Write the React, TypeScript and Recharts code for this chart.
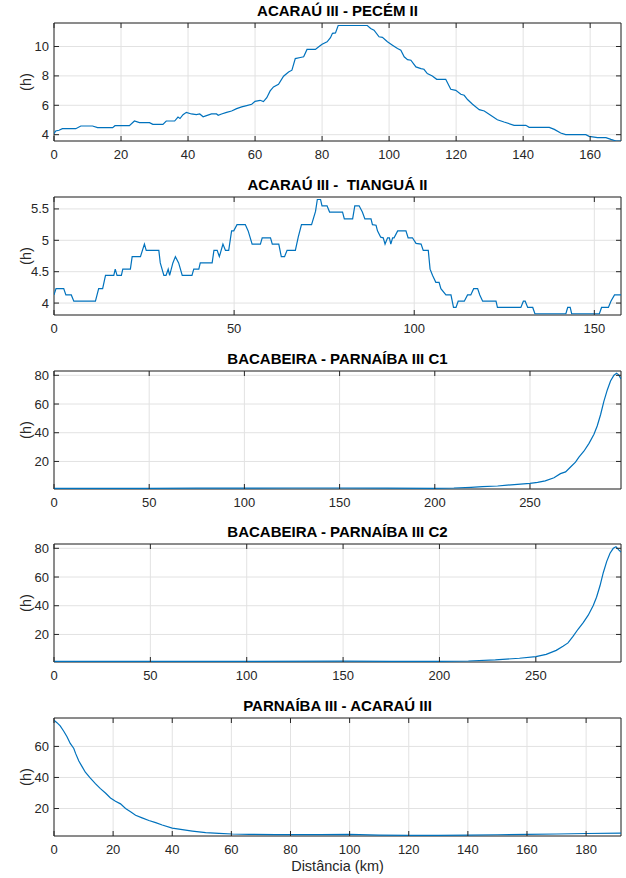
import React from 'react';
import {
  LineChart,
  Line,
  XAxis,
  YAxis,
  CartesianGrid,
  ReferenceArea,
} from 'recharts';

// ACARAÚ III - PECÉM II
const dist1 = [
  0, 0.5, 1.5, 2.5, 6.5, 8, 11.5, 13, 17.5, 18.2, 22.5, 24, 25.5, 28.5, 29.5, 32.5,
  33.5, 36, 37, 37.6, 38.5, 39.5, 41, 42.5, 43.5, 44.5, 45.5, 47, 48.5, 49, 50, 51.5,
  53, 54.5, 56, 57.5, 59, 60, 61.5, 62.5, 63.5, 64.5, 65.5, 67, 68.5, 70, 71, 72,
  73.5, 74.5, 75.5, 78, 79, 80, 81.5, 82.5, 83.1, 84, 84.8, 93.5, 94.5, 95.5, 97, 98,
  99.5, 101, 102.5, 103.5, 104.5, 105.5, 106.5, 108, 109.5, 110.4, 111.4, 112.9,
  114.2, 116.9, 118.4, 119.9, 121.4, 122.4, 123.4, 124.9, 126.9, 128.4, 130.3,
  132.3, 134.3, 137.3, 140.8, 141.8, 147.8, 149.3, 151.2, 152.7, 158.7, 159.7,
  162.2, 164.7, 166.2, 167.7, 169.2,
];
const h1 = [
  4.07, 4.25, 4.3, 4.41, 4.41, 4.59, 4.59, 4.48, 4.48, 4.61, 4.61, 4.93, 4.82, 4.82,
  4.7, 4.7, 4.93, 4.93, 5.2, 5.1, 5.36, 5.52, 5.41, 5.36, 5.41, 5.22, 5.3, 5.41,
  5.41, 5.32, 5.41, 5.52, 5.61, 5.77, 5.89, 5.98, 6.07, 6.27, 6.34, 6.25, 6.52,
  6.98, 7.25, 7.43, 7.98, 8.27, 8.39, 9.18, 9.25, 9.3, 9.8, 9.8, 9.98, 10.16, 10.32,
  10.6, 10.9, 10.93, 11.43, 11.43, 11.23, 11.11, 10.66, 10.62, 10.32, 10.09, 9.86,
  9.75, 9.3, 9.11, 9.07, 8.61, 8.5, 8.45, 8.16, 8.0, 7.77, 7.77, 7.09, 7.02, 6.75,
  6.68, 6.39, 6.07, 5.7, 5.61, 5.32, 5.02, 4.86, 4.64, 4.64, 4.5, 4.5, 4.36, 4.11,
  4.0, 4.0, 3.89, 3.8, 3.8, 3.68, 3.57, 3.57,
];

// ACARAÚ III - TIANGUÁ II
const dist2 = [
  0, 0.56, 2.7, 3.3, 4.8, 5.5, 11.5, 12.4, 13.5, 14.3, 16.6, 17.0, 17.5, 18.7, 19.1,
  21.2, 21.7, 24.0, 25.1, 25.6, 29.1, 29.5, 30.5, 31.1, 31.7, 32.1, 33.0, 33.7, 34.6,
  35.6, 38.3, 38.8, 40.2, 40.6, 43.9, 44.4, 45.3, 45.9, 46.9, 47.6, 48.5, 49.3, 49.9,
  50.8, 53.1, 53.9, 55.0, 57.3, 57.8, 60.1, 60.6, 62.4, 63.1, 64.0, 64.7, 67.0, 67.8,
  68.7, 71.5, 72.6, 73.1, 74.0, 74.4, 75.8, 76.5, 80.1, 80.6, 82.9, 83.5, 84.7, 85.6,
  86.3, 88.0, 88.4, 89.4, 89.8, 90.7, 91.4, 91.9, 92.6, 93.1, 93.5, 94.0, 94.4, 95.4,
  97.7, 98.3, 99.5, 100.5, 101.9, 102.5, 103.9, 104.4, 105.1, 106.0, 106.9, 107.4,
  108.8, 110.2, 110.9, 111.6, 112.2, 113.9, 114.8, 115.7, 116.5, 117.6, 118.2, 119.0,
  122.7, 123.1, 129.6, 130.3, 130.8, 131.5, 132.9, 133.5, 142.1, 142.6, 143.3, 143.7,
  151.4, 152.0, 153.9, 154.6, 155.6, 157.4,
];
const h2 = [
  4.13, 4.23, 4.23, 4.13, 4.13, 4.03, 4.03, 4.23, 4.23, 4.44, 4.44, 4.54, 4.44, 4.44,
  4.54, 4.54, 4.74, 4.74, 4.94, 4.84, 4.84, 4.64, 4.44, 4.44, 4.54, 4.44, 4.64, 4.74,
  4.64, 4.44, 4.44, 4.54, 4.54, 4.64, 4.64, 4.84, 4.84, 4.74, 4.94, 4.84, 4.84, 5.15,
  5.15, 5.25, 5.25, 5.15, 4.94, 4.94, 5.04, 5.04, 4.94, 4.94, 4.74, 4.74, 4.84, 4.84,
  5.05, 5.25, 5.25, 5.46, 5.65, 5.65, 5.55, 5.55, 5.45, 5.45, 5.34, 5.34, 5.55, 5.55,
  5.45, 5.34, 5.34, 5.25, 5.24, 5.15, 5.05, 5.04, 4.94, 5.04, 5.04, 4.94, 5.04, 5.04,
  5.15, 5.15, 5.04, 5.04, 4.95, 4.94, 4.84, 4.84, 4.54, 4.44, 4.33, 4.33, 4.23, 4.13,
  4.13, 3.93, 3.93, 4.03, 4.03, 4.13, 4.13, 4.23, 4.23, 4.13, 4.03, 4.03, 3.93, 3.93,
  4.03, 4.03, 3.93, 3.93, 3.83, 3.83, 3.93, 3.93, 3.83, 3.83, 3.93, 3.93, 4.03, 4.13,
  4.13,
];

// BACABEIRA - PARNAÍBA III C1
const dist3 = [
  0, 25, 50, 75, 100, 125, 150, 175, 200, 210, 219, 225, 233, 238, 245, 250, 254,
  258, 262.6, 266, 268.7, 271.3, 273.9, 275.7, 278.3, 281, 283.6, 285.3, 287.1,
  288.8, 290.6, 292.3, 294.1, 295.5, 296.7, 297.8,
];
const h3 = [
  1.3, 1.3, 1.3, 1.35, 1.4, 1.5, 1.5, 1.4, 1.3, 1.5, 2.0, 2.4, 2.9, 3.5, 4.2, 4.7,
  5.4, 6.5, 8.6, 11.5, 12.7, 16.1, 19.5, 23.0, 27.1, 32.6, 39.0, 44.7, 52.7, 61.8,
  69.8, 76.0, 80.1, 81.5, 80.1, 77.4,
];

// BACABEIRA - PARNAÍBA III C2
const dist4 = [
  0, 50, 100, 150, 175, 200, 215, 229, 241.5, 250, 255.4, 260.6, 264.1, 266.7, 269.3,
  271.9, 274.6, 277.2, 279.8, 281.5, 283.3, 285, 286.8, 288.5, 290.2, 291.6, 293,
  294.2,
];
const h4 = [
  1.2, 1.2, 1.25, 1.35, 1.3, 1.2, 1.5, 2.3, 3.4, 4.5, 6.1, 8.9, 11.8, 14.1, 18.6, 23.6,
  28.2, 33.4, 40.2, 45.9, 53.9, 63.0, 70.9, 76.6, 80.0, 81.1, 78.9, 77.3,
];

// PARNAÍBA III - ACARAÚ III
const dist5 = [
  0, 1, 2.1, 3.3, 4.4, 5.5, 6.7, 7.3, 8.4, 9.5, 10.6, 12.3, 14, 15.7, 17.4, 19.1, 20.8,
  22.5, 24.2, 25.9, 27.6, 29.8, 32.1, 34.4, 36.6, 40, 43.4, 46.8, 51.3, 55.8, 60.3,
  66, 75, 90, 100, 110, 120, 130, 140, 150, 160, 170, 180, 191.8,
];
const h5 = [
  76.8, 75.3, 73.2, 69.8, 66.2, 61.9, 58.7, 55.5, 50.6, 47.0, 43.4, 39.6, 36.0, 32.8,
  30.0, 26.8, 24.7, 23.0, 20.0, 17.9, 15.7, 14.0, 12.3, 10.9, 9.4, 7.4, 6.4, 5.5, 4.5,
  4.0, 3.6, 3.4, 3.2, 3.2, 3.3, 2.9, 2.7, 2.7, 2.9, 3.1, 3.3, 3.6, 3.9, 4.2,
];

const titles = [
  'ACARAÚ III - PECÉM II',
  'ACARAÚ III -  TIANGUÁ II',
  'BACABEIRA - PARNAÍBA III C1',
  'BACABEIRA - PARNAÍBA III C2',
  'PARNAÍBA III - ACARAÚ III',
];

const xTicks1 = [0, 20, 40, 60, 80, 100, 120, 140, 160];
const yTicks1 = [4, 6, 8, 10];
const xTicks2 = [0, 50, 100, 150];
const yTicks2 = [4, 4.5, 5, 5.5];
const xTicks3 = [0, 50, 100, 150, 200, 250];
const yTicks3 = [20, 40, 60, 80];
const xTicks5 = [0, 20, 40, 60, 80, 100, 120, 140, 160, 180];
const yTicks5 = [20, 40, 60];

const W = 626;
const LEFT = 54;
const RIGHT = 621;
const PT = 23; // plot top inside each chart
const PH = 118; // plot height
const PB = PT + PH;
const FONT = '"Liberation Sans", Arial, Helvetica, sans-serif';
const AX = '#262626';
const BLUE = '#0072BD';

const XTick = (props: any) => {
  const { x, payload } = props;
  return (
    <g>
      <line x1={x} x2={x} y1={PB} y2={PB - 5} stroke={AX} />
      <line x1={x} x2={x} y1={PT} y2={PT + 5} stroke={AX} />
      <text
        x={x}
        y={PB + 13}
        textAnchor="middle"
        dominantBaseline="central"
        fill={AX}
        fontSize={13}
        fontFamily={FONT}
      >
        {payload.value}
      </text>
    </g>
  );
};

const YTick = (props: any) => {
  const { y, payload } = props;
  return (
    <g>
      <line x1={LEFT} x2={LEFT + 5} y1={y} y2={y} stroke={AX} />
      <line x1={RIGHT} x2={RIGHT - 5} y1={y} y2={y} stroke={AX} />
      <text
        x={LEFT - 5}
        y={y}
        textAnchor="end"
        dominantBaseline="central"
        fill={AX}
        fontSize={13}
        fontFamily={FONT}
      >
        {payload.value}
      </text>
    </g>
  );
};

type PanelProps = {
  top: number;
  title: string;
  dist: number[];
  vals: number[];
  xTicks: number[];
  yTicks: number[];
  xDomain: [number, number];
  yDomain: [number, number];
};

function Panel({ top, title, dist, vals, xTicks, yTicks, xDomain, yDomain }: PanelProps) {
  const data = dist.map((d, i) => ({ d, h: vals[i] }));
  return (
    <div style={{ position: 'absolute', left: 0, top, width: W, height: 171 }}>
      <div
        style={{
          position: 'absolute',
          left: LEFT,
          width: RIGHT - LEFT,
          top: PT - 12 - 9,
          height: 18,
          lineHeight: '18px',
          textAlign: 'center',
          fontWeight: 'bold',
          fontSize: 15,
          color: '#000',
          whiteSpace: 'pre',
        }}
      >
        {title}
      </div>
      <div
        style={{
          position: 'absolute',
          left: 26 - PH / 2,
          width: PH,
          top: PT + PH / 2 - 9,
          height: 18,
          lineHeight: '18px',
          textAlign: 'center',
          fontSize: 14.5,
          color: AX,
          transform: 'rotate(-90deg)',
        }}
      >
        (h)
      </div>
      <LineChart
        width={W}
        height={171}
        data={data}
        margin={{ top: PT, right: W - RIGHT, bottom: 0, left: 0 }}
      >
        <CartesianGrid stroke="#e2e2e2" />
        <XAxis
          dataKey="d"
          type="number"
          domain={xDomain}
          ticks={xTicks}
          interval={0}
          allowDataOverflow
          axisLine={false}
          tickLine={false}
          tick={<XTick />}
          height={171 - PB}
        />
        <YAxis
          type="number"
          domain={yDomain}
          ticks={yTicks}
          interval={0}
          allowDataOverflow
          axisLine={false}
          tickLine={false}
          tick={<YTick />}
          width={LEFT}
        />
        <Line
          type="linear"
          dataKey="h"
          stroke={BLUE}
          strokeWidth={1.2}
          dot={false}
          isAnimationActive={false}
        />
        <ReferenceArea
          x1={xDomain[0]}
          x2={xDomain[1]}
          y1={yDomain[0]}
          y2={yDomain[1]}
          fill="none"
          fillOpacity={0}
          stroke={AX}
          strokeWidth={1}
        />
      </LineChart>
    </div>
  );
}

export default function App() {
  return (
    <div
      style={{
        position: 'absolute',
        left: 0,
        top: 0,
        width: W,
        height: 878,
        background: '#fff',
        fontFamily: FONT,
      }}
    >
      <Panel top={0} title={titles[0]} dist={dist1} vals={h1} xTicks={xTicks1} yTicks={yTicks1} xDomain={[0, 169.2]} yDomain={[3.57, 11.6]} />
      <Panel top={174} title={titles[1]} dist={dist2} vals={h2} xTicks={xTicks2} yTicks={yTicks2} xDomain={[0, 157.4]} yDomain={[3.81, 5.69]} />
      <Panel top={348} title={titles[2]} dist={dist3} vals={h3} xTicks={xTicks3} yTicks={yTicks3} xDomain={[0, 297.8]} yDomain={[0.8, 83]} />
      <Panel top={521} title={titles[3]} dist={dist4} vals={h4} xTicks={xTicks3} yTicks={yTicks3} xDomain={[0, 294.2]} yDomain={[0.8, 83]} />
      <Panel top={695} title={titles[4]} dist={dist5} vals={h5} xTicks={xTicks5} yTicks={yTicks5} xDomain={[0, 191.8]} yDomain={[2.3, 78.3]} />
      <div
        style={{
          position: 'absolute',
          left: LEFT,
          width: RIGHT - LEFT,
          top: 857,
          height: 18,
          lineHeight: '18px',
          textAlign: 'center',
          fontSize: 14.5,
          color: AX,
        }}
      >
        Distância (km)
      </div>
    </div>
  );
}
